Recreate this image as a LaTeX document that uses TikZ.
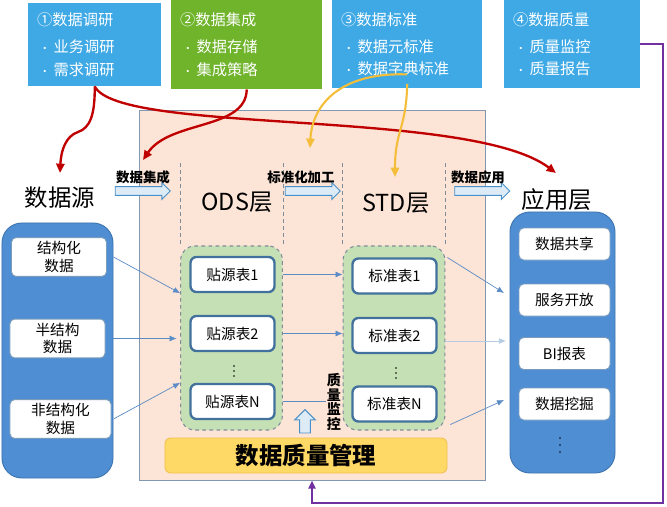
\documentclass[tikz,border=0pt]{standalone}
\usepackage{fontspec}
\setmainfont{Noto Sans CJK SC}
\usetikzlibrary{arrows.meta, shapes.arrows, positioning, calc}

\definecolor{topblue}{HTML}{3FA9E6}
\definecolor{topgreen}{HTML}{70B42C}
\definecolor{pinkfill}{HTML}{FCE4D6}
\definecolor{pinkborder}{HTML}{8497B0}
\definecolor{layerblue}{HTML}{4F8ED3}
\definecolor{layerborder}{HTML}{3E75B0}
\definecolor{tblborder}{HTML}{41719C}
\definecolor{stagegreen}{HTML}{C5E0B4}
\definecolor{stageborder}{HTML}{7F8C99}
\definecolor{qmyellow}{HTML}{FFD966}
\definecolor{qmborder}{HTML}{F2C14E}
\definecolor{flowblue}{HTML}{5B8CC6}
\definecolor{arrowfill}{HTML}{DDEBF7}
\definecolor{arrowborder}{HTML}{4A90C8}
\definecolor{darkred}{HTML}{C00000}
\definecolor{goldline}{HTML}{F4BE3A}
\definecolor{purpleline}{HTML}{7030A0}
\definecolor{navydot}{HTML}{1F3864}

\begin{document}
\begin{tikzpicture}[x=0.03cm, y=-0.03cm, >=Latex,
    topbox/.style={anchor=north west, text=white, align=left, inner xsep=0.27cm, inner ysep=0pt,
                   font=\fontsize{13}{19}\selectfont},
    stagebox/.style={draw=stageborder, dashed, line width=0.9pt, fill=stagegreen, rounded corners=12pt,
                     minimum width=3.05cm, minimum height=5.52cm},
    tbl/.style={draw=tblborder, fill=white, rounded corners=5pt, line width=2pt,
                minimum width=2.52cm, minimum height=1.05cm, font=\fontsize{12.5}{15}\selectfont},
    srcitem/.style={draw=tblborder!70, fill=white, rounded corners=4pt, line width=0.8pt,
                    minimum width=2.85cm, minimum height=1.1cm, align=center, font=\fontsize{12.5}{15}\selectfont},
    appitem/.style={draw=tblborder!70, fill=white, rounded corners=4pt, line width=0.8pt,
                    minimum width=2.73cm, minimum height=0.96cm, font=\fontsize{12.5}{15}\selectfont},
    layerbox/.style={draw=layerborder, fill=layerblue, rounded corners=17pt, line width=0.8pt},
    layertitle/.style={font=\fontsize{20}{24}\selectfont},
    flowlabel/.style={font=\bfseries\fontsize{11.5}{14}\selectfont},
    blockarrow/.style={single arrow, draw=arrowborder, fill=arrowfill, line width=0.8pt, inner sep=0pt,
                       inner ysep=3.4pt, single arrow head extend=3.4pt, minimum height=1.65cm},
    colsep/.style={draw=stageborder, dashed, line width=0.6pt},
    flow/.style={->, draw=flowblue, line width=0.6pt, >={Latex[length=6pt,width=5pt]}},
    redline/.style={draw=darkred, line width=2pt, -{Triangle[length=8pt,width=7pt]}},
    goldcurve/.style={draw=goldline, line width=1.8pt, -{Triangle[length=8pt,width=7pt]}},
    backline/.style={draw=purpleline, line width=1.8pt, -{Triangle[length=7pt,width=6pt]}}]

    \useasboundingbox (0,0) rectangle (667,507);

    % Top task boxes
    \node[topbox, fill=topblue, minimum height=2.49cm, text width=3.45cm] (q1) at (28,3)
        {①数据调研\\[4pt]\hspace{2pt}{\small•}\hspace{3pt}业务调研\\\hspace{2pt}{\small•}\hspace{3pt}需求调研};
    \node[topbox, fill=topgreen, minimum height=2.67cm, text width=3.99cm] (q2) at (171,0)
        {②数据集成\\[4pt]\hspace{2pt}{\small•}\hspace{3pt}数据存储\\\hspace{2pt}{\small•}\hspace{3pt}集成策略};
    \node[topbox, fill=topblue, minimum height=2.64cm, text width=3.96cm] (q3) at (332,0)
        {③数据标准\\[4pt]\hspace{2pt}{\small•}\hspace{3pt}数据元标准\\\hspace{2pt}{\small•}\hspace{3pt}数据字典标准};
    \node[topbox, fill=topblue, minimum height=2.64cm, text width=3.54cm] (q4) at (504,0)
        {④数据质量\\[4pt]\hspace{2pt}{\small•}\hspace{3pt}质量监控\\\hspace{2pt}{\small•}\hspace{3pt}质量报告};

    % Warehouse area
    \node[draw=pinkborder, fill=pinkfill, line width=0.8pt, minimum width=10.38cm, minimum height=11.1cm] (pink) at (312,295) {};
    \coordinate (ctop) at (0,163);

    % Stage boxes
    \node[stagebox] (ods) at (231.5,338) {};
    \node[stagebox] (std) at (394,338) {};
    \draw[colsep] (ods.north west |- ctop) -- (ods.north west);
    \draw[colsep] (ods.north east |- ctop) -- (ods.north east);
    \draw[colsep] (std.north west |- ctop) -- (std.north west);
    \draw[colsep] (std.north east |- ctop) -- (std.north east);

    % ODS tables
    \node[tbl] (t1) at (232.5,274.5) {贴源表1};
    \node[tbl] (t2) at (232.5,333.5) {贴源表2};
    \node[tbl] (t3) at (232.5,401.5) {贴源表N};
    \foreach \d in {-5,0,5} \fill (234,{371+\d}) circle (0.8pt);

    % STD tables
    \node[tbl] (s1) at (394.5,276) {标准表1};
    \node[tbl] (s2) at (394.5,335.5) {标准表2};
    \node[tbl] (s3) at (394.5,404) {标准表N};
    \foreach \d in {-5,0,5} \fill (396,{373+\d}) circle (0.8pt);

    % Quality management
    \node[draw=qmborder, fill=qmyellow, rounded corners=5pt, line width=0.8pt, minimum width=8.46cm,
          minimum height=1.05cm, font=\bfseries\fontsize{20}{23}\selectfont] (dqm) at (306,455.5) {数据质量管理};
    \node[single arrow, rotate=90, draw=arrowborder, fill=arrowfill, line width=0.8pt,
          inner sep=0pt, inner ysep=4.2pt, single arrow head extend=4.2pt, minimum height=0.7cm] (uparrow) at (305,424) {};
    \node[align=center, inner sep=1pt, font=\bfseries\fontsize{12}{12.6}\selectfont] (qmlabel) at (334,402) {质\\量\\监\\控};

    % Data sources
    \node[layerbox, minimum width=3.33cm, minimum height=7.65cm] (src) at (57.5,350.5) {};
    \node[srcitem] (sd1) at (59,257) {结构化\\数据};
    \node[srcitem] (sd2) at (57.5,338.5) {半结构\\数据};
    \node[srcitem, minimum width=3.03cm] (sd3) at (60.5,419) {非结构化\\数据};

    % Applications
    \node[layerbox, minimum width=3.15cm, minimum height=7.83cm] (app) at (562.5,342.5) {};
    \node[appitem] (a1) at (564.5,244) {数据共享};
    \node[appitem] (a2) at (564.5,300) {服务开放};
    \node[appitem] (a3) at (564.5,353.5) {BI报表};
    \node[appitem] (a4) at (564.5,404) {数据挖掘};
    \foreach \d in {-7,0,7} \fill[navydot] (560,{445+\d}) circle (1pt);

    % Layer titles
    \node[layertitle] (srctitle) at (60,198) {数据源};
    \node[layertitle] (odstitle) at (237,202) {ODS层};
    \node[layertitle] (stdtitle) at (396,203) {STD层};
    \node[layertitle] (apptitle) at (557,200) {应用层};

    % Stage arrows
    \node[blockarrow] (ar1) at (140.5,191) {};
    \node[blockarrow] (ar2) at (310.5,191) {};
    \node[blockarrow] (ar3) at (480,191) {};
    \node[flowlabel] (lb1) at (143,177) {数据集成};
    \node[flowlabel] (lb2) at (301,177) {标准化加工};
    \node[flowlabel] (lb3) at (478,177) {数据应用};

    % Data flows
    \draw[flow] (src.east |- sd1) -- (ods.west |- t1.south);
    \draw[flow, shorten >=3pt] (src.east |- sd2) -- (ods.west |- sd2);
    \draw[flow] (src.east |- sd3) -- (ods.west |- t3.north);
    \draw[flow] (ods.east |- t1) -- (std.west |- t1);
    \draw[flow] (ods.east |- t2) -- (std.west |- t2);
    \draw[draw=flowblue, line width=0.6pt] (ods.east |- t3) -- (qmlabel.west |- t3);
    \coordinate (ain1) at (504,293);
    \coordinate (ain2) at (506,341);
    \coordinate (ain3) at (504,400);
    \draw[flow] ($(std.north east)+(2,12)$) -- (ain1);
    \draw[flow, draw=flowblue!45] (std.east |- ain2) -- (ain2);
    \draw[flow] ($(std.south east)+(5,-6)$) -- (ain3);

    % Task links
    \coordinate (srcin) at (60,173);
    \coordinate (appin) at (556,173);
    \coordinate (odsin) at (143,160);
    \coordinate (normin) at (310,148);
    \coordinate (stdin) at (395,177);
    \coordinate (qback) at (663,503);
    \draw[redline] (q1.south) .. controls (95,115) and (90,128) .. (78,132)
                   .. controls (66,136) and (61,150) .. (srcin);
    \draw[redline] (q1.south) .. controls (120,135) and (470,108) .. (appin);
    \draw[redline] (q2.south) .. controls (246,130) and (170,120) .. (odsin);
    \draw[goldcurve] ([yshift=12pt]q3.south) .. controls (340,72) and (312,105) .. (normin);
    \draw[goldcurve] ([yshift=4pt]q3.south) .. controls (406,130) and (395,130) .. (stdin);
    \draw[backline] (q4.east) -| (qback) -| (pink.south);

\end{tikzpicture}
\end{document}
